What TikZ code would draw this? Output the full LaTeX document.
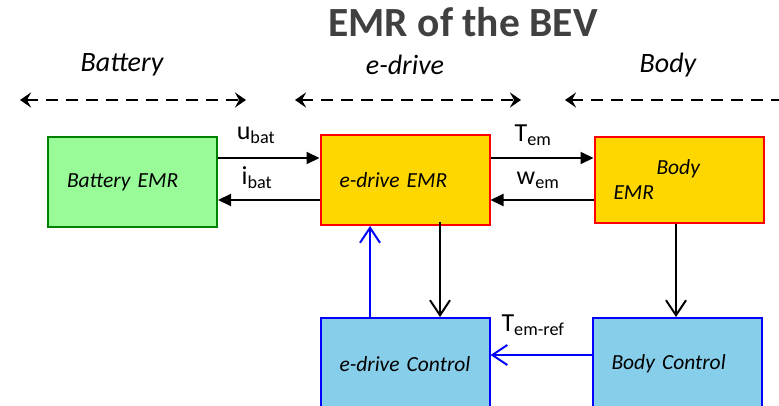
\documentclass[tikz,border=0pt]{standalone}
\usepackage{fontspec}
\setmainfont{Carlito}
\usetikzlibrary{arrows.meta}
\definecolor{titlegray}{RGB}{64,64,64}
\definecolor{emrgreen}{RGB}{152,251,152}
\definecolor{emrgold}{RGB}{255,215,0}
\definecolor{ctrlblue}{RGB}{135,206,235}
\tikzset{
  emrbox/.style={draw, line width=2pt, text width=135pt, inner xsep=17pt,
    inner ysep=0pt, align=left, minimum height=90pt,
    font=\fontsize{21.5}{25}\selectfont\itshape},
  sectlabel/.style={font=\fontsize{28}{32}\selectfont\itshape},
  siglabel/.style={font=\fontsize{26}{30}\selectfont, inner sep=0pt},
  scope arrow/.style={line width=2pt, dash pattern=on 12pt off 8pt,
    {Stealth[length=11pt,width=15pt,inset=4pt]}-{Stealth[length=11pt,width=15pt,inset=4pt]}},
  power arrow/.style={line width=2pt, -{Triangle[length=13pt,width=12pt]}},
  info arrow/.style={line width=2pt, -{Straight Barb[length=15pt,width=20pt,line width=2pt]}},
}
\begin{document}
\begin{tikzpicture}[x=1pt,y=-1pt]
  \useasboundingbox (0,0) rectangle (779,406);
  \clip (0,0) rectangle (779,406);
  % title and scopes
  \node[font=\fontsize{41.5}{46}\selectfont\bfseries, text=titlegray] (title) at (463,22) {EMR of the BEV};
  \node[sectlabel] (secBat) at (122,65) {Battery};
  \node[sectlabel] (secEdr) at (405,65) {e-drive};
  \node[sectlabel] (secBody) at (668,65) {Body};
  \coordinate (batL) at (20,100);  \coordinate (batR) at (246,100);
  \coordinate (edrL) at (295,100); \coordinate (edrR) at (521,100);
  \coordinate (bodyL) at (565,100); \coordinate (bodyR) at (791,100);
  \draw[scope arrow] (batL) -- (batR);
  \draw[scope arrow] (edrL) -- (edrR);
  \draw[scope arrow] (bodyL) -- (bodyR);
  % boxes
  \node[emrbox, fill=emrgreen, draw=green!50!black] (batEMR) at (132.5,182) {\hspace*{2pt}Battery EMR};
  \node[emrbox, fill=emrgold, draw=red] (edrEMR) at (405,180) {\hspace*{2pt}e-drive EMR};
  \node[emrbox, fill=emrgold, draw=red, minimum height=86pt] (bodyEMR) at (679,180) {\hspace*{45pt}Body\\\hspace*{2pt}EMR};
  \node[emrbox, fill=ctrlblue, draw=blue, minimum height=92pt] (edrCtrl) at (405,364) {\hspace*{2pt}e-drive Control};
  \node[emrbox, fill=ctrlblue, draw=blue, minimum height=92pt] (bodyCtrl) at (677,364) {\hspace*{2pt}Body Control};
  % power links
  \draw[power arrow] (batEMR.east |- 0,158) -- (edrEMR.west |- 0,158);
  \draw[power arrow] (edrEMR.west |- 0,200) -- (batEMR.east |- 0,200);
  \draw[power arrow] (edrEMR.east |- 0,158) -- (bodyEMR.west |- 0,158);
  \draw[power arrow] (bodyEMR.west |- 0,200) -- (edrEMR.east |- 0,200);
  \node[siglabel] (ubat) at (256,135) {u\textsubscript{bat}};
  \node[siglabel] (ibat) at (257,178) {i\textsubscript{bat}};
  \node[siglabel] (Tem) at (533,135) {T\textsubscript{em}};
  \node[siglabel] (wem) at (538,180) {w\textsubscript{em}};
  % control links
  \draw[info arrow] (edrEMR.south -| 440,0) ++(0,-4) -- (edrCtrl.north -| 440,0);
  \draw[info arrow] (bodyEMR.south -| 676,0) -- (bodyCtrl.north -| 676,0);
  \draw[info arrow, blue] (edrCtrl.north -| 370,0) -- (edrEMR.south -| 370,0);
  \draw[info arrow, blue] (bodyCtrl.west |- 0,355) -- (edrCtrl.east |- 0,355);
  \node[siglabel] (Temref) at (533,325) {T\textsubscript{em-ref}};
\end{tikzpicture}
\end{document}
